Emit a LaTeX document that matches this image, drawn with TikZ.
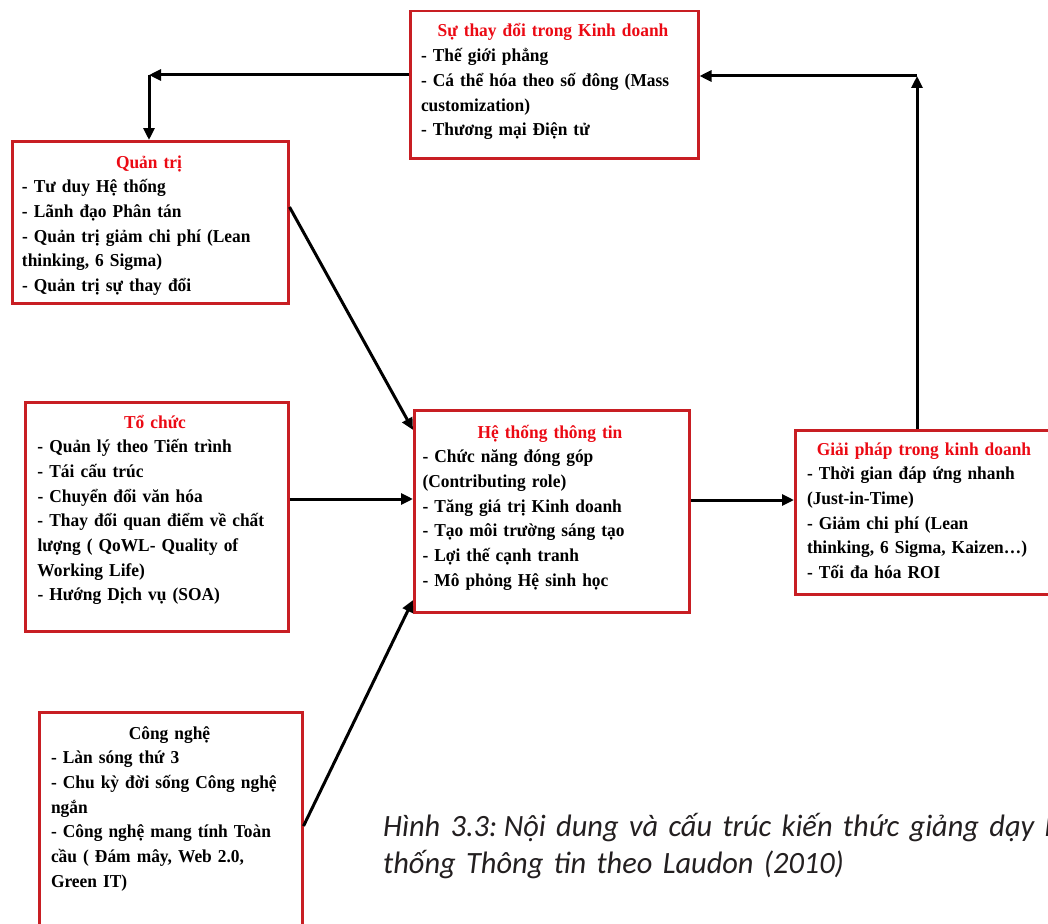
\documentclass[tikz,border=0pt]{standalone}
\usepackage{fontspec}
\setmainfont{Liberation Serif}[FakeStretch=0.955]
\newfontfamily\capfont{Carlito}[FakeStretch=0.98,WordSpace=0.6]
\usetikzlibrary{arrows.meta}
\definecolor{boxred}{RGB}{200,30,35}
\definecolor{titlered}{RGB}{235,10,20}
\definecolor{captext}{RGB}{35,31,32}
\newcommand\ttl[1]{\makebox[\linewidth]{\textcolor{titlered}{#1}}}
\newcommand\ttlb[1]{\makebox[\linewidth]{#1}}
\newcommand\bl[1]{\mbox{#1}}
\tikzset{
  box/.style={draw=boxred, line width=2.5pt, rectangle, anchor=north west, inner sep=0pt},
  txt/.style={anchor=base, inner sep=0pt, align=left, font=\fontsize{18.2}{24.7}\selectfont\bfseries},
  arr/.style={line width=3pt, -{Triangle[length=12pt,width=11pt]}},
}
\begin{document}
\begin{tikzpicture}[x=1pt,y=-1pt]
\useasboundingbox (0,0) rectangle (1048,923);
% boxes
\node[box, minimum width=288pt, minimum height=147pt] (tb) at (409,10) {};
\node[box, minimum width=276pt, minimum height=162pt] (qt) at (11,140) {};
\node[box, minimum width=263pt, minimum height=229pt] (tc) at (24,401) {};
\node[box, minimum width=275pt, minimum height=202pt] (hs) at (413,409) {};
\node[box, minimum width=260pt, minimum height=164pt] (gp) at (794,429) {};
\node[box, minimum width=263pt, minimum height=240pt] (cn) at (38,711) {};
% texts
\node[txt, text width=264pt] (tbt) at (553,37) {\ttl{Sự thay đổi trong Kinh doanh}\\
\bl{- Thế giới phẳng}\\
\bl{- Cá thể hóa theo số đông (Mass}\\
\bl{customization)}\\
\bl{- Thương mại Điện tử}};
\node[txt, text width=254pt] (qtt) at (149,168) {\ttl{Quản trị}\\
\bl{- Tư duy Hệ thống}\\
\bl{- Lãnh đạo Phân tán}\\
\bl{- Quản trị giảm chi phí (Lean}\\
\bl{thinking, 6 Sigma)}\\
\bl{- Quản trị sự thay đổi}};
\node[txt, text width=235pt] (tct) at (155,428) {\ttl{Tổ chức}\\
\bl{- Quản lý theo Tiến trình}\\
\bl{- Tái cấu trúc}\\
\bl{- Chuyển đổi văn hóa}\\
\bl{- Thay đổi quan điểm về chất}\\
\bl{lượng ( QoWL- Quality of}\\
\bl{Working Life)}\\
\bl{- Hướng Dịch vụ (SOA)}};
\node[txt, text width=255pt] (hst) at (550,438) {\ttl{Hệ thống thông tin}\\
\bl{- Chức năng đóng góp}\\
\bl{(Contributing role)}\\
\bl{- Tăng giá trị Kinh doanh}\\
\bl{- Tạo môi trường sáng tạo}\\
\bl{- Lợi thế cạnh tranh}\\
\bl{- Mô phỏng Hệ sinh học}};
\node[txt, text width=234pt] (gpt) at (924,455) {\ttl{Giải pháp trong kinh doanh}\\
\bl{- Thời gian đáp ứng nhanh}\\
\bl{(Just-in-Time)}\\
\bl{- Giảm chi phí (Lean}\\
\bl{thinking, 6 Sigma, Kaizen…)}\\
\bl{- Tối đa hóa ROI}};
\node[txt, text width=237pt] (cnt) at (169.5,739) {\ttlb{Công nghệ}\\
\bl{- Làn sóng thứ 3}\\
\bl{- Chu kỳ đời sống Công nghệ}\\
\bl{ngắn}\\
\bl{- Công nghệ mang tính Toàn}\\
\bl{cầu ( Đám mây, Web 2.0,}\\
\bl{Green IT)}};
% caption
\node[anchor=base west, inner sep=0pt, text width=800pt, align=left, text=captext,
      font=\capfont\itshape\fontsize{31}{37}\selectfont] (cap) at (383,836)
  {\bl{Hình 3.3:\kern-9pt{} Nội dung và cấu trúc kiến thức giảng dạy Hệ}\\\bl{thống Thông tin theo Laudon (2010)}};
% connectors
\coordinate (c1) at (149,75);
\coordinate (c2) at (917,76);
\coordinate (q1) at (0,207);
\coordinate (h1) at (0,430);
\coordinate (m1) at (0,499);
\coordinate (m2) at (0,500);
\coordinate (k1) at (0,826);
\coordinate (h3) at (0,600);
\draw[arr] (tb.west |- c1) -- (c1);
\draw[arr] (c1) -- (c1 |- qt.north);
\draw[arr] (c2 |- gp.north) -- (c2);
\draw[arr] (c2) -- (c2 -| tb.east);
\draw[arr] (qt.east |- q1) -- (hs.west |- h1);
\draw[arr] (tc.east |- m1) -- (hs.west |- m1);
\draw[arr] (cn.east |- k1) -- (hs.west |- h3);
\draw[arr] (hs.east |- m2) -- (gp.west |- m2);
\end{tikzpicture}
\end{document}
